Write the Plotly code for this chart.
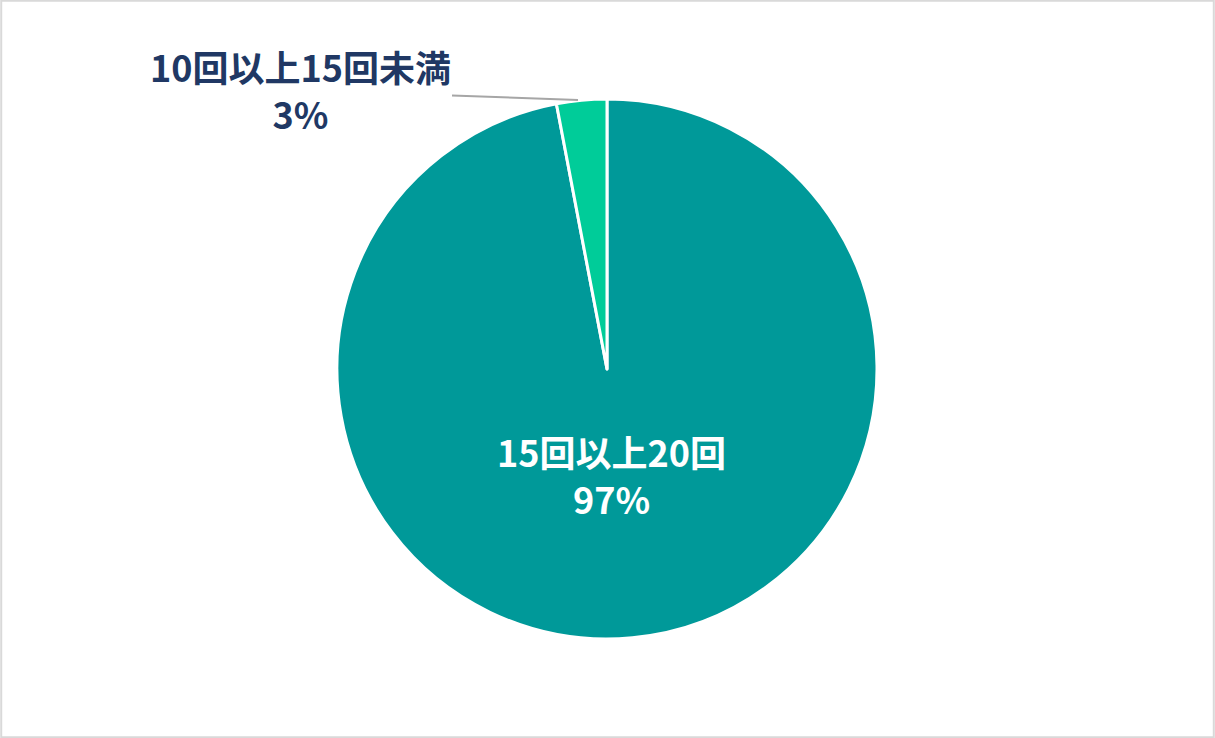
import plotly.graph_objects as go

# 回数の分布
labels = ['15回以上20回', '10回以上15回未満']
values = [97, 3]
colors = ['#009999', '#00CC99']

FONT = 'Noto Sans CJK JP'
W, H = 1215, 738

fig = go.Figure()

fig.add_trace(go.Pie(
    labels=labels,
    values=values,
    sort=False,
    direction='clockwise',
    rotation=0,
    marker=dict(colors=colors, line=dict(color='white', width=3)),
    textinfo='none',
    domain=dict(x=[337 / W, 877 / W], y=[99 / H, 639 / H]),
    showlegend=False,
    hoverinfo='label+percent',
))

pcts = [round(v / sum(values) * 100) for v in values]

# big slice label, inside
fig.add_annotation(
    x=612 / W, y=1 - 474 / H, xref='paper', yref='paper',
    text=f'{labels[0]}<br>{pcts[0]}%',
    showarrow=False,
    font=dict(family=FONT, size=36, color='white', weight='bold'),
    align='center',
)

# small slice label placed outside with a leader line
fig.add_annotation(
    x=578 / W, y=1 - 100 / H, xref='paper', yref='paper',
    ax=-278, ay=-10,
    text=f'{labels[1]}<br>{pcts[1]}%',
    showarrow=True, arrowhead=0, arrowwidth=2, arrowcolor='#A6A6A6',
    font=dict(family=FONT, size=36, color='#203864', weight='bold'),
    align='center',
)

fig.add_shape(
    type='rect', xref='paper', yref='paper', x0=0.001, x1=0.999, y0=0.001, y1=0.999,
    line=dict(color='#D9D9D9', width=2),
)

fig.update_layout(
    width=W, height=H,
    margin=dict(l=0, r=0, t=0, b=0),
    paper_bgcolor='white',
    plot_bgcolor='white',
)

fig.write_html("out.html", config={'displayModeBar': False},
               post_script="document.body.style.margin='0';")
